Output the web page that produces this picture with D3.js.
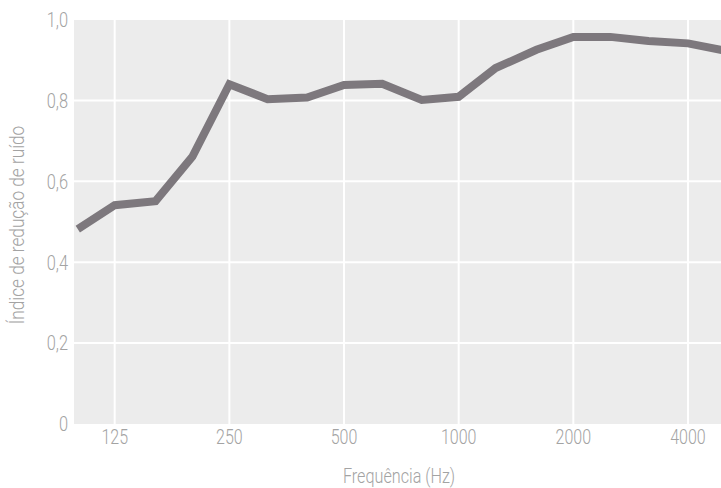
<!DOCTYPE html>
<html>
<head>
<meta charset="utf-8">
<script src="https://cdn.jsdelivr.net/npm/d3@7"></script>
<style>
  body { margin: 0; background: #fff; }
  text { font-family: Roboto, "Liberation Sans", sans-serif; font-weight: 300; fill: #a3a3a3; }
</style>
</head>
<body>
<div id="chart"></div>
<script>
  // third-octave band centre frequencies (Hz)
  const frequencies = [100, 125, 160, 200, 250, 315, 400, 500, 630, 800, 1000, 1250, 1600, 2000, 2500, 3150, 4000, 5000];
  // noise reduction index per band
  const nrc = [0.482, 0.541, 0.551, 0.661, 0.840, 0.803, 0.807, 0.838, 0.841, 0.801, 0.809, 0.880, 0.925, 0.957, 0.957, 0.947, 0.941, 0.923];

  const xTicks = [125, 250, 500, 1000, 2000, 4000];
  const yTicks = [0, 0.2, 0.4, 0.6, 0.8, 1.0];

  const width = 721, height = 488;
  const plot = {left: 74, right: 721, top: 20, bottom: 424};
  const squeeze = 0.8; // condensed look of the original typeface

  const svg = d3.select('#chart')
    .append('svg')
    .attr('width', width)
    .attr('height', height);

  const x = d3.scaleLog().base(2)
    .domain([125, 4000])
    .range([114.7, 688]);

  const y = d3.scaleLinear()
    .domain([0, 1])
    .range([plot.bottom, 19.5]);

  svg.append('rect')
    .attr('x', plot.left)
    .attr('y', plot.top)
    .attr('width', plot.right - plot.left)
    .attr('height', plot.bottom - plot.top)
    .attr('fill', '#ececec');

  svg.append('clipPath').attr('id', 'clip')
    .append('rect')
    .attr('x', plot.left)
    .attr('y', plot.top - 10)
    .attr('width', plot.right - plot.left)
    .attr('height', plot.bottom - plot.top + 10);

  // grid
  const grid = svg.append('g').attr('stroke', '#fff').attr('stroke-width', 2);
  grid.selectAll('.gx').data(xTicks).enter().append('line')
    .attr('x1', (d) => x(d)).attr('x2', (d) => x(d))
    .attr('y1', plot.top).attr('y2', plot.bottom);
  grid.selectAll('.gy').data(yTicks.filter((d) => d > 0 && d < 1)).enter().append('line')
    .attr('x1', plot.left).attr('x2', plot.right)
    .attr('y1', (d) => y(d)).attr('y2', (d) => y(d));

  // line
  const lineFn = d3.line()
    .x((d, i) => x(frequencies[i]))
    .y((d) => y(d));

  svg.append('path')
    .datum(nrc)
    .attr('clip-path', 'url(#clip)')
    .attr('d', lineFn)
    .attr('fill', 'none')
    .attr('stroke', '#7d787d')
    .attr('stroke-width', 8)
    .attr('stroke-linejoin', 'miter');

  // y axis labels
  const yFormat = (d) => d === 0 ? '0' : d3.format('.1f')(d).replace('.', ',');
  svg.append('g').selectAll('text').data(yTicks).enter().append('text')
    .attr('transform', (d) => `translate(68,${y(d)}) scale(${squeeze},1)`)
    .attr('dy', '0.36em')
    .attr('text-anchor', 'end')
    .attr('font-size', 20.5)
    .text(yFormat);

  // x axis labels
  svg.append('g').selectAll('text').data(xTicks).enter().append('text')
    .attr('transform', (d) => `translate(${x(d)},444) scale(${squeeze},1)`)
    .attr('text-anchor', 'middle')
    .attr('font-size', 20)
    .text((d) => d);

  // axis titles
  svg.append('text')
    .attr('transform', 'translate(399,483) scale(0.81,1)')
    .attr('text-anchor', 'middle')
    .attr('font-size', 20)
    .text('Frequência (Hz)');

  svg.append('text')
    .attr('transform', 'translate(24,225) rotate(-90) scale(0.82,1)')
    .attr('text-anchor', 'middle')
    .attr('font-size', 21)
    .text('Índice de redução de ruído');
</script>
</body>
</html>
